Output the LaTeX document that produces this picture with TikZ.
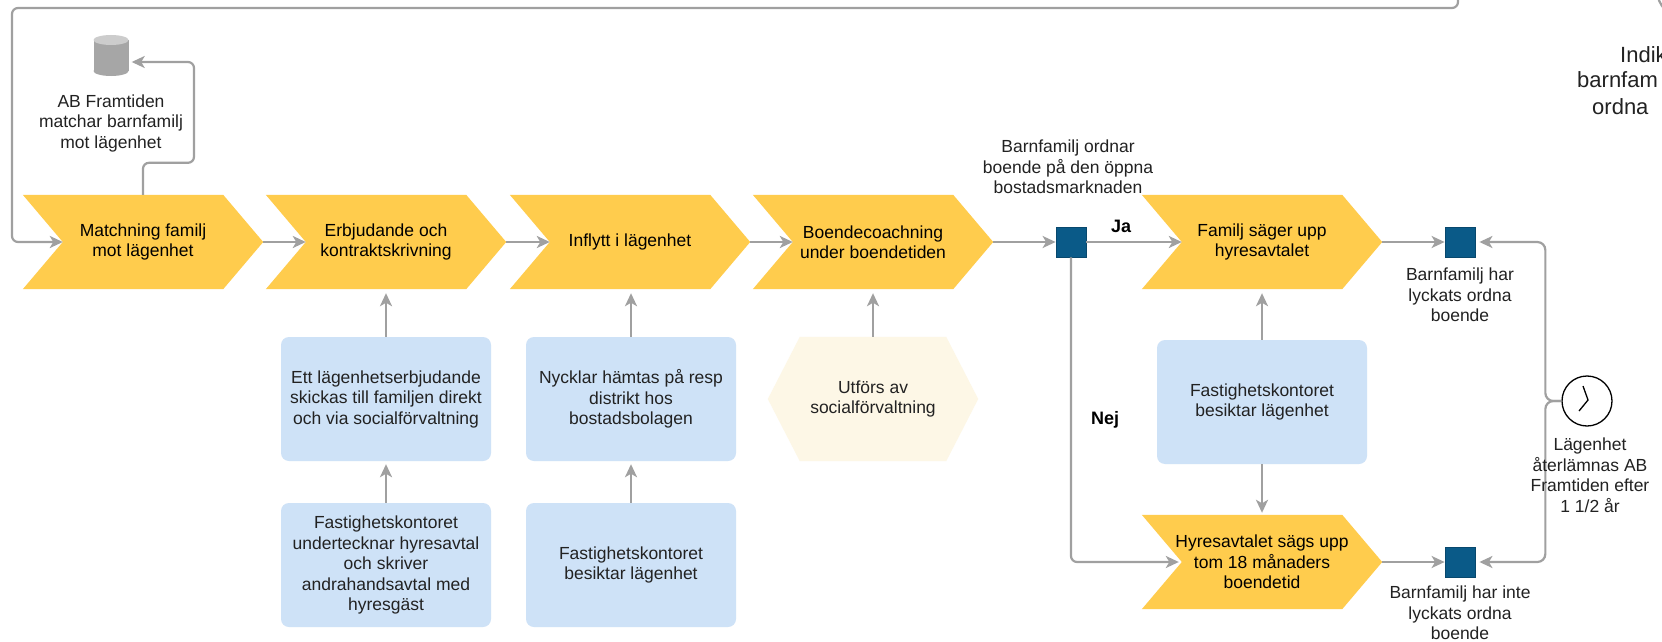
\documentclass[tikz,border=0pt]{standalone}
\usepackage{fontspec}
\setmainfont{Liberation Sans}
\usetikzlibrary{arrows.meta,calc}
\definecolor{chev}{RGB}{255,204,77}
\definecolor{boxblue}{RGB}{206,226,247}
\definecolor{hexfill}{RGB}{253,247,230}
\definecolor{sqblue}{RGB}{10,90,136}
\definecolor{conn}{RGB}{160,160,160}
\definecolor{txt}{RGB}{34,34,34}
\newcommand\myfs{\fontsize{17.5}{20.5}\selectfont}
\pgfdeclarelayer{bg}
\pgfsetlayers{bg,main}
\newcommand\chevshape[1]{\fill[chev] (#1.north west) -- ([xshift=-40pt]#1.north east) -- (#1.east) -- ([xshift=-40pt]#1.south east) -- (#1.south west) -- ([xshift=40pt]#1.west) -- cycle;}
\tikzset{
  chevnode/.style={minimum width=240pt, minimum height=94pt, inner sep=0pt, align=center, font=\myfs, text=black},
  infobox/.style={rounded corners=8pt, fill=boxblue, minimum width=210pt, minimum height=124pt, inner sep=0pt, align=center, font=\myfs, text=txt},
  hexnode/.style={minimum width=210pt, minimum height=124pt, inner sep=0pt, align=center, font=\myfs, text=txt},
  lbl/.style={inner sep=0pt, align=center, font=\myfs, text=txt},
  boldlbl/.style={inner sep=0pt, font=\fontsize{18}{21}\selectfont\bfseries, text=black},
  endsq/.style={minimum size=30pt, inner sep=0pt, fill=sqblue, draw=sqblue!80!black, line width=0.8pt},
  conn/.style={draw=conn, line width=2.2pt, rounded corners=6pt},
  arr/.style={conn, -{Stealth[length=13pt,width=12pt,inset=3.5pt]}},
}
\begin{document}
\begin{tikzpicture}[x=1pt,y=-1pt]
\useasboundingbox (0,0) rectangle (1662,642);
\clip (0,0) rectangle (1662,642);

% process chevrons
\node[chevnode] (m1) at (143,242) {Matchning familj\\mot lägenhet};
\node[chevnode] (m2) at (386,242) {Erbjudande och\\kontraktskrivning};
\node[chevnode] (m3) at (630,242) {Inflytt i lägenhet};
\node[chevnode] (m4) at (873,242) {Boendecoachning\\under boendetiden};
\node[chevnode] (m5) at (1262,242) {Familj säger upp\\hyresavtalet};
\node[chevnode] (m6) at (1262,562) {Hyresavtalet sägs upp\\tom 18 månaders\\boendetid};

% info boxes
\node[infobox] (bA) at (386,399) {Ett lägenhetserbjudande\\skickas till familjen direkt\\och via socialförvaltning};
\node[infobox] (bB) at (386,565) {Fastighetskontoret\\undertecknar hyresavtal\\och skriver\\andrahandsavtal med\\hyresgäst};
\node[infobox] (bC) at (631,399) {Nycklar hämtas på resp\\distrikt hos\\bostadsbolagen};
\node[infobox] (bD) at (631,565) {Fastighetskontoret\\besiktar lägenhet};
\node[infobox] (bE) at (1262,402) {Fastighetskontoret\\besiktar lägenhet};
\node[hexnode] (hx) at (873,399) {Utförs av\\socialförvaltning};

% events
\node[endsq] (dec) at (1071,242) {};
\node[endsq] (sq1) at (1460,242) {};
\node[endsq] (sq2) at (1460,562) {};
\node[circle, draw=black, line width=1.3pt, minimum size=50pt, inner sep=0pt] (clock) at (1587,401) {};
\draw[line width=1.3pt] (1583,386) -- (1588,400) -- (1579,411);

% database
\node[minimum width=35pt, minimum height=41pt, inner sep=0pt] (db) at (111,55.5) {};
\fill[gray!70] (93.5,40) rectangle (128.5,71);
\fill[gray!70] (111,71) ellipse[x radius=17.5, y radius=5];
\fill[gray!40] (111,40) ellipse[x radius=17.5, y radius=5];

% labels
\node[lbl] (tdb) at (111,123) {AB Framtiden\\matchar barnfamilj\\mot lägenhet};
\node[lbl] (tdec) at (1068,167) {Barnfamilj ordnar\\boende på den öppna\\bostadsmarknaden};
\node[boldlbl] (tja) at (1121,226) {Ja};
\node[boldlbl] (tnej) at (1105,420) {Nej};
\node[lbl] (tsq1) at (1460,295) {Barnfamilj har\\lyckats ordna\\boende};
\node[lbl] (tsq2) at (1460,613) {Barnfamilj har inte\\lyckats ordna\\boende};

% partially visible text at the right edge
\node[anchor=west, inner sep=0pt, font=\fontsize{22}{26}\selectfont, text=txt] (ind1) at (1620,55) {Indik};
\node[anchor=west, inner sep=0pt, font=\fontsize{22}{26}\selectfont, text=txt] (ind2) at (1577,80) {barnfam};
\node[anchor=west, inner sep=0pt, font=\fontsize{22}{26}\selectfont, text=txt] (ind3) at (1592,107) {ordna};
\draw[conn] (1685,-10) circle (28);

% connectors
\coordinate (loopin) at (1458,-20);
\coordinate (loopcorner) at (12,8);
\draw[arr] (loopin) |- (loopcorner) |- ([xshift=40pt]m1.west);
\draw[arr] (m1.north) -- ++(0,-32) -- ++(51,0) |- ([xshift=3pt,yshift=-6.5pt]db.east);
\draw[arr] (m1.east) -- ([xshift=40pt]m2.west);
\draw[arr] (m2.east) -- ([xshift=40pt]m3.west);
\draw[arr] (m3.east) -- ([xshift=40pt]m4.west);
\draw[arr] (m4.east) -- (dec.west);
\draw[arr] (dec.east) -- ([xshift=40pt]m5.west);
\draw[arr] (dec.south) |- ([xshift=37pt]m6.west);
\draw[arr] (m5.east) -- (sq1.west);
\draw[arr] (m6.east) -- (sq2.west);
\draw[arr] (bA.north) -- ([yshift=-4pt]bA.north |- m2.south);
\draw[arr] (bB.north) -- ([yshift=-3pt]bA.south);
\draw[arr] (bC.north) -- ([yshift=-4pt]bC.north |- m3.south);
\draw[arr] (bD.north) -- ([yshift=-3pt]bC.south);
\draw[arr] (hx.north) -- ([yshift=-4pt]m4.south);
\draw[arr] (bE.north) -- ([yshift=-4pt]m5.south);
\draw[arr] (bE.south) -- ([yshift=2pt]m6.north);
\draw[arr, rounded corners=8pt] (clock.west) -- ++(-16,0) |- ([xshift=4pt]sq1.east);
\draw[arr, rounded corners=8pt] (clock.west) -- ++(-16,0) |- ([xshift=4pt]sq2.east);

% clock label drawn over the line
\node[lbl] (tclock) at (1590,475) {Lägenhet\\återlämnas AB\\Framtiden efter\\1 1/2 år};

\begin{pgfonlayer}{bg}
\fill[white] (0,0) rectangle (1662,642);
\chevshape{m1}
\chevshape{m2}
\chevshape{m3}
\chevshape{m4}
\chevshape{m5}
\chevshape{m6}
\fill[hexfill] (hx.west) -- ([xshift=32pt]hx.north west) -- ([xshift=-32pt]hx.north east) -- (hx.east) -- ([xshift=-32pt]hx.south east) -- ([xshift=32pt]hx.south west) -- cycle;
\end{pgfonlayer}
\end{tikzpicture}
\end{document}
